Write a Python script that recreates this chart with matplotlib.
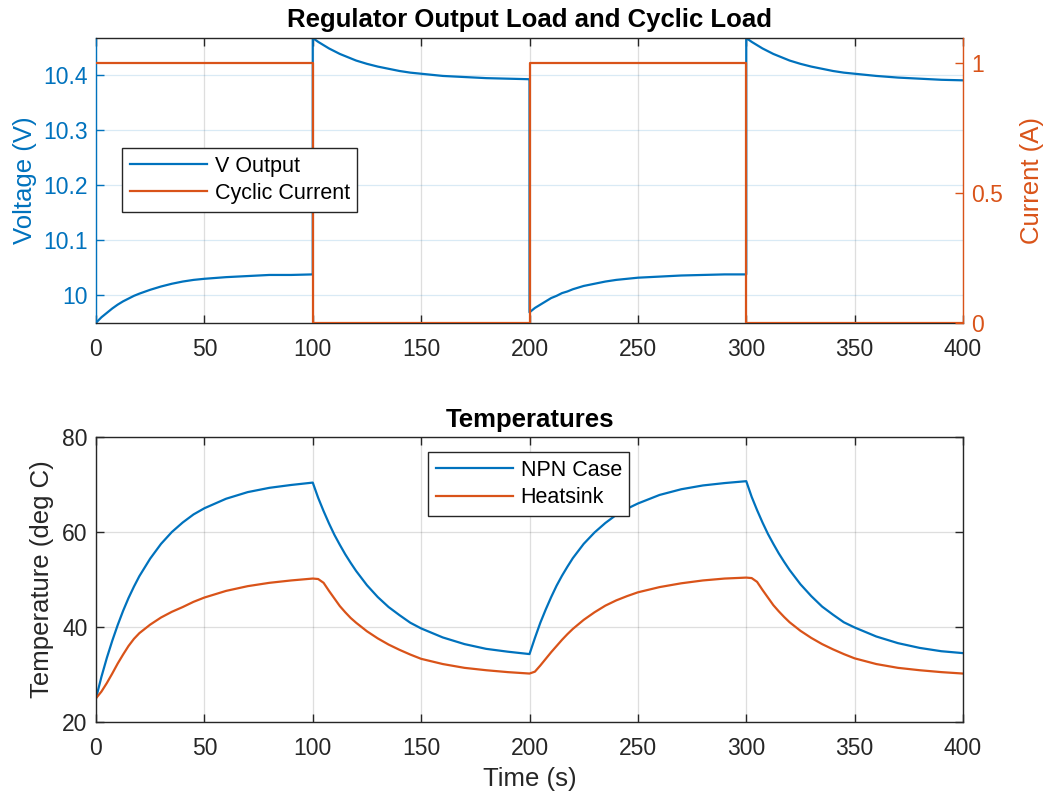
import numpy as np
import matplotlib
matplotlib.use("Agg")
import matplotlib.pyplot as plt

# ----------------------
# Data
# ----------------------
# time offsets inside each 100 s half-cycle
seg_offsets = [0, 2.5, 5, 7.5, 10, 12.5, 15, 17.5, 20, 25, 30, 35, 40, 45, 50, 60, 70, 80, 90, 100]
seg_starts = [0, 100, 200, 300]

# regulator output voltage (V), one list per half-cycle
v_out_1 = [9.950, 9.960, 9.968, 9.976, 9.983, 9.989, 9.994, 9.999, 10.003, 10.010,
           10.016, 10.021, 10.025, 10.028, 10.030, 10.033, 10.035, 10.037, 10.037, 10.038]
v_out_2 = [10.468, 10.461, 10.455, 10.449, 10.444, 10.439, 10.435, 10.431, 10.427, 10.421,
           10.416, 10.412, 10.408, 10.405, 10.403, 10.399, 10.397, 10.395, 10.394, 10.393]
v_out_3 = [9.969, 9.977, 9.983, 9.989, 9.995, 9.999, 10.004, 10.007, 10.011, 10.017,
           10.021, 10.025, 10.028, 10.030, 10.032, 10.034, 10.036, 10.037, 10.038, 10.038]
v_out_4 = [10.468, 10.461, 10.455, 10.449, 10.444, 10.439, 10.435, 10.431, 10.427, 10.421,
           10.416, 10.412, 10.408, 10.405, 10.403, 10.399, 10.396, 10.394, 10.392, 10.391]

# cyclic load current (A)
cur_t = [0, 100, 100, 200, 200, 300, 300, 400]
cur_a = [1, 1, 0, 0, 1, 1, 0, 0]

# NPN case temperature (deg C)
npn_1 = [25.0, 29.5, 33.5, 37.1, 40.4, 43.4, 46.1, 48.5, 50.7, 54.4,
         57.5, 60.0, 62.0, 63.7, 65.0, 67.0, 68.4, 69.3, 69.9, 70.4]
npn_2 = [70.4, 67.2, 64.4, 61.8, 59.4, 57.3, 55.3, 53.5, 51.8, 48.8,
         46.3, 44.2, 42.5, 40.9, 39.7, 37.8, 36.4, 35.4, 34.8, 34.3]
npn_3 = [34.3, 37.7, 40.9, 43.7, 46.3, 48.7, 50.8, 52.7, 54.5, 57.5,
         59.9, 61.9, 63.6, 64.9, 66.0, 67.8, 69.0, 69.8, 70.3, 70.7]
npn_4 = [70.7, 67.4, 64.6, 62.0, 59.6, 57.5, 55.5, 53.7, 52.0, 49.0,
         46.5, 44.3, 42.6, 41.0, 39.9, 38.0, 36.6, 35.6, 34.9, 34.5]

# heatsink temperature (deg C)
heat_1 = [25.0, 26.4, 28.2, 30.2, 32.3, 34.2, 36.0, 37.5, 38.7, 40.5,
          42.0, 43.2, 44.2, 45.3, 46.2, 47.6, 48.6, 49.3, 49.8, 50.2]
heat_2 = [50.2, 50.1, 49.3, 47.6, 46.0, 44.4, 43.1, 41.9, 40.9, 39.1,
          37.6, 36.3, 35.2, 34.2, 33.3, 32.2, 31.4, 30.9, 30.5, 30.2]
heat_3 = [30.2, 30.6, 31.9, 33.3, 34.7, 36.0, 37.3, 38.5, 39.6, 41.5,
          43.1, 44.5, 45.6, 46.5, 47.3, 48.4, 49.2, 49.8, 50.2, 50.4]
heat_4 = [50.4, 50.3, 49.5, 47.8, 46.2, 44.6, 43.3, 42.1, 41.0, 39.2,
          37.7, 36.4, 35.3, 34.3, 33.4, 32.2, 31.4, 30.9, 30.5, 30.2]

x_ticks = [0, 50, 100, 150, 200, 250, 300, 350, 400]

BLUE = "#0072BD"
ORANGE = "#D95319"
DARK = "#262626"

TICK_FS = 16.5
LABEL_FS = 18.5
TITLE_FS = 18.5
LEG_FS = 15.5

plt.rcParams["font.family"] = ["Liberation Sans", "DejaVu Sans"]


def join_segments(*segs):
    t = np.concatenate([np.array(seg_offsets) + s for s in seg_starts])
    y = np.concatenate([np.asarray(s, dtype=float) for s in segs])
    return t, y


def style_axes(ax):
    ax.set_xlim(0, 400)
    ax.set_xticks(x_ticks)
    ax.tick_params(axis="both", direction="in", length=6, width=1.0,
                   labelsize=TICK_FS, top=True)
    ax.tick_params(axis="x", colors=DARK, pad=11)
    ax.tick_params(axis="y", pad=6)
    for sp in ax.spines.values():
        sp.set_linewidth(1.0)
        sp.set_color(DARK)


def matlab_legend(ax, handles, anchor):
    leg = ax.legend(handles=handles, loc="upper left", bbox_to_anchor=anchor,
                    fontsize=LEG_FS, frameon=True, fancybox=False, framealpha=1,
                    edgecolor=DARK, handlelength=3.6, borderpad=0.35,
                    labelspacing=0.3, handletextpad=0.35, borderaxespad=0)
    leg.get_frame().set_linewidth(1.0)
    return leg


fig = plt.figure(figsize=(10.5, 8.02), dpi=100)

# -------- top: voltage + current --------
ax1 = fig.add_axes([96 / 1050, 1 - 323 / 802, 867 / 1050, 285 / 802])
t_v, v_all = join_segments(v_out_1, v_out_2, v_out_3, v_out_4)
l1, = ax1.plot(t_v, v_all, color=BLUE, lw=1.6, label="V Output")
ax1.set_ylim(9.9496, 10.468)
ax1.set_yticks([10.0, 10.1, 10.2, 10.3, 10.4])
ax1.set_yticklabels(["10", "10.1", "10.2", "10.3", "10.4"])
style_axes(ax1)
ax1.tick_params(axis="y", colors=BLUE, right=False)
ax1.xaxis.grid(True, color=DARK, alpha=0.15, lw=0.9)
ax1.yaxis.grid(True, color=BLUE, alpha=0.15, lw=0.9)
ax1.set_axisbelow(True)
ax1.spines["left"].set_color(BLUE)
ax1.spines["right"].set_visible(False)
ax1.set_ylabel("Voltage (V)", color=BLUE, fontsize=LABEL_FS, labelpad=4)
ax1.set_title("Regulator Output Load and Cyclic Load", fontsize=TITLE_FS,
              fontweight="bold", color="black", pad=8)

ax2 = ax1.twinx()
l2, = ax2.plot(cur_t, cur_a, color=ORANGE, lw=1.6, label="Cyclic Current")
ax2.set_ylim(0, 1.095)
ax2.set_yticks([0, 0.5, 1])
ax2.set_yticklabels(["0", "0.5", "1"])
ax2.tick_params(axis="y", direction="in", length=6, width=1.0, colors=ORANGE,
                labelsize=TICK_FS, pad=6)
for sp in ax2.spines.values():
    sp.set_visible(False)
ax2.spines["right"].set_visible(True)
ax2.spines["right"].set_color(ORANGE)
ax2.spines["right"].set_linewidth(1.0)
ax2.set_ylabel("Current (A)", color=ORANGE, fontsize=LABEL_FS, labelpad=12)

matlab_legend(ax2, [l1, l2], (0.030, 0.614))

# -------- bottom: temperatures --------
ax3 = fig.add_axes([96 / 1050, 1 - 722 / 802, 867 / 1050, 285 / 802])
t_n, npn_all = join_segments(npn_1, npn_2, npn_3, npn_4)
t_h, heat_all = join_segments(heat_1, heat_2, heat_3, heat_4)
l3, = ax3.plot(t_n, npn_all, color=BLUE, lw=1.6, label="NPN Case")
l4, = ax3.plot(t_h, heat_all, color=ORANGE, lw=1.6, label="Heatsink")
ax3.set_ylim(20, 80)
ax3.set_yticks([20, 40, 60, 80])
style_axes(ax3)
ax3.tick_params(axis="y", colors=DARK, right=True)
ax3.grid(True, color=DARK, alpha=0.15, lw=0.9)
ax3.set_axisbelow(True)
ax3.set_ylabel("Temperature (deg C)", color=DARK, fontsize=LABEL_FS, labelpad=6)
ax3.set_xlabel("Time (s)", color=DARK, fontsize=LABEL_FS, labelpad=5)
ax3.set_title("Temperatures", fontsize=TITLE_FS, fontweight="bold", color="black", pad=7)

matlab_legend(ax3, [l3, l4], (0.383, 0.947))

fig.savefig("out.png", dpi=100, facecolor="white")
